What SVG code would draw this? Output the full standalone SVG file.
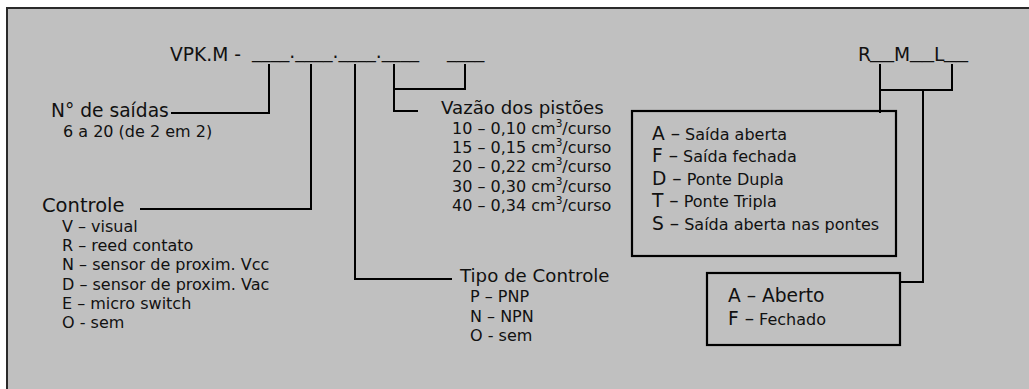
<svg xmlns="http://www.w3.org/2000/svg" width="1029" height="389" viewBox="0 0 1029 389">
<style>
text{font-family:"DejaVu Sans","Liberation Sans",sans-serif;fill:#111}
.h{font-size:18.67px}
.s{font-size:16px}
.b{font-size:18.67px}
.ln{stroke:#000;stroke-width:2;fill:none}
.box{stroke:#000;stroke-width:2.2;fill:none}
</style>
<rect x="0" y="0" width="1029" height="389" fill="#fff"/>
<rect x="7" y="8" width="1040" height="400" fill="#c0c0c0" stroke="#2a2a2a" stroke-width="2"/>

<g id="code">
<text class="h" x="170" y="61">VPK.M -</text>
<text class="h" x="252" y="58">____.____.____.____</text>
<text class="h" x="447" y="58">____</text>
</g>

<g id="code-r">
<text class="h" x="858" y="61">R</text>
<text class="h" x="870" y="58" textLength="24" lengthAdjust="spacingAndGlyphs">__</text>
<text class="h" x="894" y="61">M</text>
<text class="h" x="910" y="58" textLength="24" lengthAdjust="spacingAndGlyphs">__</text>
<text class="h" x="934" y="61">L</text>
<text class="h" x="944" y="58" textLength="24" lengthAdjust="spacingAndGlyphs">__</text>
</g>

<g id="saidas">
<text class="h" x="51" y="117">N° de saídas</text>
<text class="s" x="63" y="137">6 a 20 (de 2 em 2)</text>
</g>

<g id="controle">
<text class="h" x="42" y="212" style="font-size:19.5px">Controle</text>
<text class="s" x="62" y="232">V – visual</text>
<text class="s" x="62" y="251">R – reed contato</text>
<text class="s" x="62" y="270">N – sensor de proxim. Vcc</text>
<text class="s" x="62" y="289.5">D – sensor de proxim. Vac</text>
<text class="s" x="62" y="308.5">E – micro switch</text>
<text class="s" x="62" y="328">O - sem</text>
</g>

<g id="vazao">
<text class="h" x="441" y="114" style="font-size:18.2px">Vazão dos pistões</text>
<text class="s" x="452" y="134">10 – 0,10 cm<tspan font-size="10.5" dy="-7">3</tspan><tspan dy="7">/curso</tspan></text>
<text class="s" x="452" y="153">15 – 0,15 cm<tspan font-size="10.5" dy="-7">3</tspan><tspan dy="7">/curso</tspan></text>
<text class="s" x="452" y="172">20 – 0,22 cm<tspan font-size="10.5" dy="-7">3</tspan><tspan dy="7">/curso</tspan></text>
<text class="s" x="452" y="191.5">30 – 0,30 cm<tspan font-size="10.5" dy="-7">3</tspan><tspan dy="7">/curso</tspan></text>
<text class="s" x="452" y="211">40 – 0,34 cm<tspan font-size="10.5" dy="-7">3</tspan><tspan dy="7">/curso</tspan></text>
</g>

<g id="tipo">
<text class="h" x="460" y="282" style="font-size:18.2px">Tipo de Controle</text>
<text class="s" x="470" y="302">P – PNP</text>
<text class="s" x="470" y="321.5">N – NPN</text>
<text class="s" x="470" y="341">O - sem</text>
</g>

<g id="box-saida">
<rect class="box" x="632" y="111" width="264" height="145"/>
<text class="s" x="652" y="140"><tspan class="b">A –</tspan> Saída aberta</text>
<text class="s" x="652" y="162"><tspan class="b">F –</tspan> Saída fechada</text>
<text class="s" x="652" y="185"><tspan class="b">D –</tspan> Ponte Dupla</text>
<text class="s" x="652" y="207"><tspan class="b">T –</tspan> Ponte Tripla</text>
<text class="s" x="652" y="230"><tspan class="b">S –</tspan> Saída aberta nas pontes</text>
</g>

<g id="box-ab">
<rect class="box" x="707" y="273" width="193" height="72"/>
<text class="h" x="728" y="302">A – Aberto</text>
<text class="s" x="728" y="325"><tspan class="b">F –</tspan> Fechado</text>
</g>

<g id="connectors">
<polyline class="ln" points="269,64 269,113 171,113"/>
<polyline class="ln" points="311,64 311,209 140,209"/>
<polyline class="ln" points="355,64 355,279 452,279"/>
<polyline class="ln" points="465,64 465,89 394,89"/>
<polyline class="ln" points="394,64 394,111 418,111"/>
<polyline class="ln" points="880,64 880,113"/>
<polyline class="ln" points="952,64 952,90 880,90"/>
<polyline class="ln" points="923,90 923,282 900,282"/>
</g>
</svg>
